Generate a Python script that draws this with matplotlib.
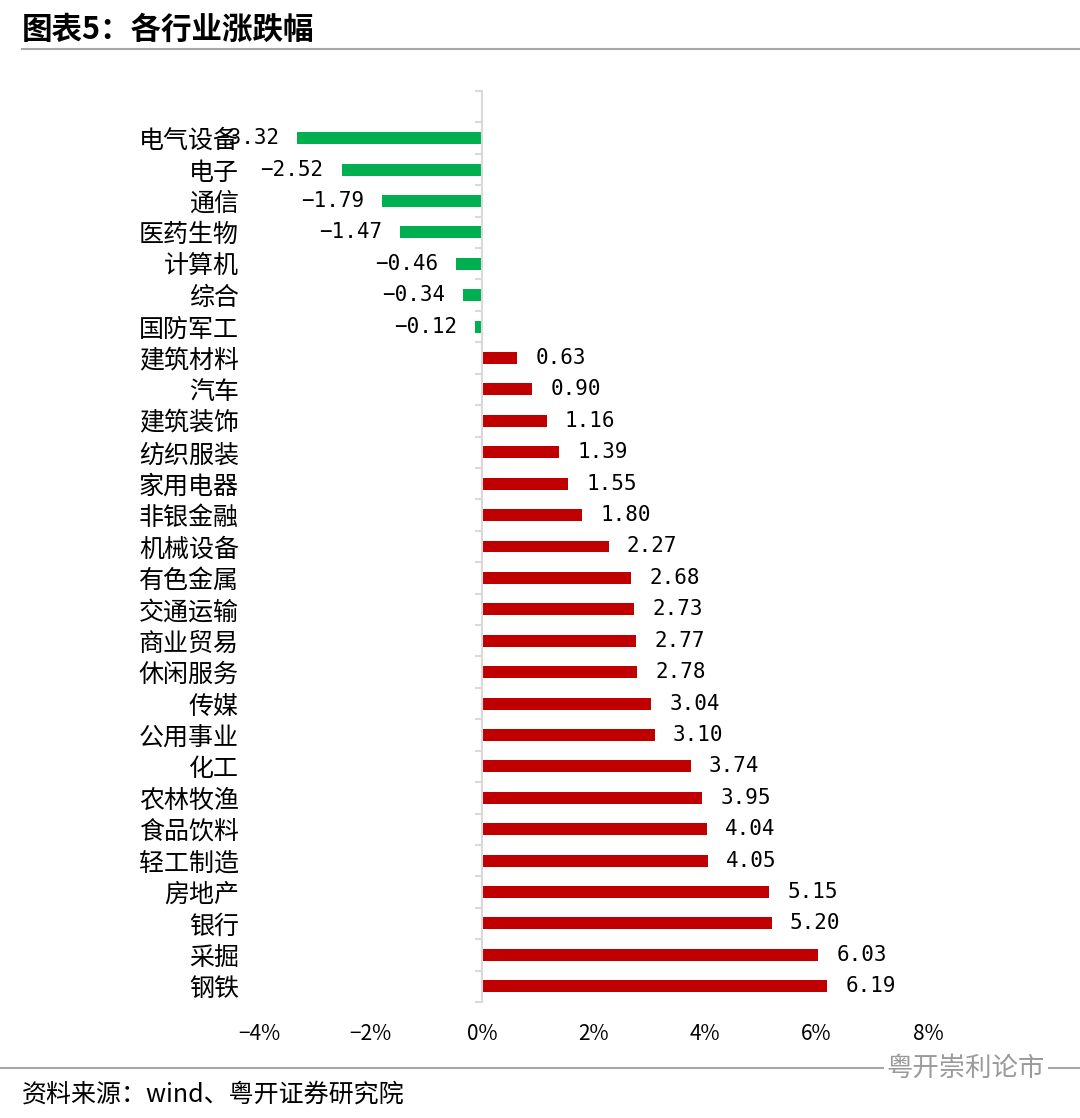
import matplotlib.pyplot as plt
from matplotlib.lines import Line2D
import numpy as np

plt.rcParams['font.family'] = ['Noto Sans CJK SC', 'DejaVu Sans']
plt.rcParams['axes.unicode_minus'] = True

industries = ["电气设备", "电子", "通信", "医药生物", "计算机", "综合", "国防军工",
              "建筑材料", "汽车", "建筑装饰", "纺织服装", "家用电器", "非银金融",
              "机械设备", "有色金属", "交通运输", "商业贸易", "休闲服务", "传媒",
              "公用事业", "化工", "农林牧渔", "食品饮料", "轻工制造", "房地产",
              "银行", "采掘", "钢铁"]
changes = [-3.32, -2.52, -1.79, -1.47, -0.46, -0.34, -0.12,
           0.63, 0.90, 1.16, 1.39, 1.55, 1.80,
           2.27, 2.68, 2.73, 2.77, 2.78, 3.04,
           3.10, 3.74, 3.95, 4.04, 4.05, 5.15,
           5.20, 6.03, 6.19]
x_ticks = [-4, -2, 0, 2, 4, 6, 8]

green = '#00B050'
red = '#C00000'

W, H = 1080, 1118
fig = plt.figure(figsize=(W / 100, H / 100), dpi=100)
ax = fig.add_axes([259 / W, 1 - 1002 / H, (928 - 259) / W, (1002 - 91) / H])

ypos = np.arange(len(industries))
colors = [green if v < 0 else red for v in changes]
ax.barh(ypos, changes, height=0.38, color=colors, zorder=2)

# value labels, outside the bar end
for y, v in zip(ypos, changes):
    txt = ('%.2f' % v).replace('-', '\u2212')
    if v < 0:
        ax.annotate(txt, (v, y), xytext=(-13, 0), textcoords='offset points',
                    ha='right', va='center', fontsize=15, family='DejaVu Sans Mono')
    else:
        ax.annotate(txt, (v, y), xytext=(13, 0), textcoords='offset points',
                    ha='left', va='center', fontsize=15, family='DejaVu Sans Mono')

ax.set_xlim(-4, 8)
ax.set_ylim(27.5, -1.5)

# y axis sits at zero
for s in ['top', 'right', 'bottom']:
    ax.spines[s].set_visible(False)
ax.spines['left'].set_position(('data', 0))
ax.spines['left'].set_color('#D9D9D9')
ax.spines['left'].set_linewidth(1.5)
ax.spines['left'].set_zorder(3)

ax.set_yticks(ypos)
ax.set_yticklabels(industries, fontsize=18)
ax.set_yticks(np.arange(-1.5, 28, 1), minor=True)
ax.tick_params(axis='y', which='major', length=0, pad=175)
ax.tick_params(axis='y', which='minor', length=5, width=1.5, color='#D9D9D9', direction='out')

ax.set_xticks(x_ticks)
ax.set_xticklabels(['%d%%' % t if t >= 0 else '\u2212%d%%' % -t for t in x_ticks], fontsize=15)
ax.tick_params(axis='x', length=0, pad=15)

# title + rules
fig.text(22 / W, 1 - 30 / H, "图表5：各行业涨跌幅", fontsize=22, fontweight='bold',
         ha='left', va='center')
fig.add_artist(Line2D([22 / W, 1], [1 - 49 / H, 1 - 49 / H], color='#A6A6A6', lw=1.5))
fig.add_artist(Line2D([0, 1], [1 - 1068 / H, 1 - 1068 / H], color='#A6A6A6', lw=1.5))

fig.text(22 / W, 1 - 1095 / H, "资料来源：wind、粤开证券研究院", fontsize=18,
         style='italic', ha='left', va='center')
fig.text(1045 / W, 1 - 1068 / H, "粤开崇利论市", fontsize=19, color='#9A9A9A',
         ha='right', va='center',
         bbox=dict(boxstyle='square,pad=0.1', fc='white', ec='none'))

fig.savefig('out.png', dpi=100)
